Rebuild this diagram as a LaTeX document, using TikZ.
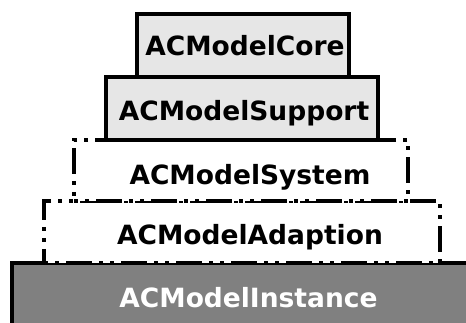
\documentclass[tikz,border=0pt]{standalone}
\usepackage{fontspec}
\setmainfont{DejaVu Sans}
\definecolor{layerlight}{RGB}{230, 230, 230}
\definecolor{layerdark}{RGB}{128, 128, 128}

\begin{document}
\begin{tikzpicture}[
  x=1pt, y=-1pt,
  layer/.style={draw=black, line width=3.5pt, inner sep=0pt},
  layertext/.style={inner sep=0pt, text height=19pt, text depth=0pt, font=\fontsize{26.5}{30}\selectfont\bfseries},
  dashdot/.style={dash pattern=on 4pt off 7pt on 4pt off 7pt on 26pt off 7pt},
]
\useasboundingbox (0,0) rectangle (466,323);

% Instance (bottom)
\node[layer, fill=layerdark, minimum width=473pt, minimum height=68pt] (instance) at (248.5,297) {};
\node[layertext, text=white] (instancetext) at (248.5,297.5) {ACModelInstance};

% Adaption
\node[layer, dashdot, fill=white, minimum width=396pt, minimum height=62pt] (adaption) at (242,232) {};
\node[layertext] (adaptiontext) at (250,235.5) {ACModelAdaption};

% System
\node[layer, dashdot, fill=white, minimum width=334pt, minimum height=61pt] (system) at (241,170.5) {};
\node[layertext] (systemtext) at (250,175) {ACModelSystem};

% Support
\node[layer, fill=layerlight, minimum width=272pt, minimum height=63pt] (support) at (242,108.5) {};
\node[layertext] (supporttext) at (244,111.5) {ACModelSupport};

% Core (top)
\node[layer, fill=layerlight, minimum width=212pt, minimum height=63pt] (core) at (243,45.5) {};
\node[layertext] (coretext) at (245,46.5) {ACModelCore};
\end{tikzpicture}
\end{document}
